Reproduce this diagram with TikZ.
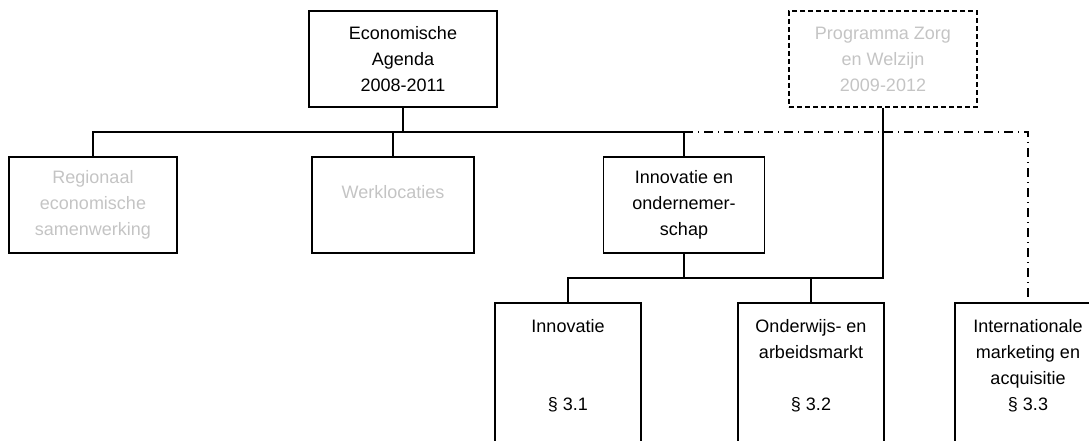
\documentclass[tikz,border=0pt]{standalone}
\usepackage{fontspec}
\setmainfont{Liberation Sans}
\usepackage{xcolor}
\usetikzlibrary{positioning}
\definecolor{lightgrey}{RGB}{196,196,196}

\begin{document}
\begin{tikzpicture}[x=1pt, y=-1pt, line width=1.8pt,
  every node/.style={font=\fontsize{18}{26}\selectfont, align=center},
  box/.style={draw, minimum height=96pt, inner sep=0pt},
  dashbox/.style={box, dash pattern=on 5pt off 3pt, text=lightgrey},
  lowbox/.style={draw, anchor=north, minimum width=146pt, inner xsep=0pt, inner ysep=17pt},
  looselink/.style={dash pattern=on 9pt off 5pt on 1pt off 5pt}]
\useasboundingbox (0,0) rectangle (1089,441);
\clip (0,0) rectangle (1089,441);

% top row
\node[box, minimum width=188pt] (econ) at (403,59) {Economische\\Agenda\\2008-2011};
\node[dashbox, minimum width=188pt] (prog) at (883,59) {Programma Zorg\\en Welzijn\\2009-2012};

% middle row
\node[box, minimum width=168pt, text=lightgrey] (regio) at (93,205) {Regionaal\\economische\\samenwerking};
\node[box, minimum width=162pt, text=lightgrey] (werk) at (393,205) {Werklocaties\\ {}};
\node[box, minimum width=161pt] (innoond) at (684,205) {Innovatie en\\ondernemer-\\schap};

% bottom row, runs off the page
\node[lowbox] (inno) at (568,302) {Innovatie\\ {}\\ {}\\ \S~3.1\\ {}\\ {}\\ {}};
\node[lowbox] (ond) at (811,302) {Onderwijs- en\\arbeidsmarkt\\ {}\\ \S~3.2\\ {}\\ {}\\ {}};
\node[lowbox] (intl) at (1028,302) {Internationale\\marketing en\\acquisitie\\ \S~3.3\\ {}\\ {}\\ {}};

\coordinate (bus) at (0,132);
\coordinate (lowbus) at (0,278);

\draw (econ.south) -- (econ.south |- bus);
\draw (regio.north) -- (regio.north |- bus) -| (innoond.north);
\draw (werk.north) -- (werk.north |- bus);
\draw[looselink] (innoond.north |- bus) -| (intl.north);
\draw (prog.south) |- (inno.north |- lowbus) -- (inno.north);
\draw (innoond.south) -- (innoond.south |- lowbus);
\draw (ond.north) -- (ond.north |- lowbus);
\end{tikzpicture}
\end{document}
